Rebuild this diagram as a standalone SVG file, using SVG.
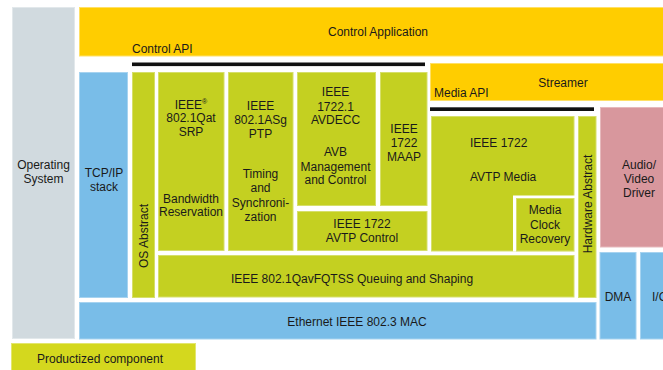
<svg xmlns="http://www.w3.org/2000/svg" width="663" height="370" viewBox="0 0 663 370">
<style>
text{font-family:"Liberation Sans",Arial,sans-serif;font-size:12px;fill:#1a1a1a}
.c{text-anchor:middle}
.g{fill:#c4d021;stroke:#d6df6a;stroke-width:1}
.y{fill:#ffcd00;stroke:#ffe066;stroke-width:1}
.b{fill:#79bde8;stroke:#a6d3f0;stroke-width:1}
.gr{fill:#d1dadf;stroke:#e2e8eb;stroke-width:1}
.p{fill:#d8979d;stroke:#e6b9bd;stroke-width:1}
.l{fill:#d4d81e;stroke:#e3e66e;stroke-width:1}
.bar{fill:#111}
</style>
<rect width="663" height="370" fill="#fff"/>
<g id="operating-system"><rect class="gr" x="12.5" y="7.5" width="62" height="331"/><text class="c" x="43.5" y="169">Operating</text><text class="c" x="43.5" y="183">System</text></g>
<g id="control-application"><rect class="y" x="79.5" y="7.5" width="590" height="48.5"/><text class="c" x="378" y="36">Control Application</text><text x="132" y="53">Control API</text></g>
<g id="streamer"><rect class="y" x="430.5" y="63.5" width="240" height="37"/><text class="c" x="563" y="87">Streamer</text><text x="434" y="97">Media API</text></g>
<g id="tcpip"><rect class="b" x="79.5" y="72.5" width="48" height="225"/><text class="c" x="104" y="177">TCP/IP</text><text class="c" x="104" y="191">stack</text></g>
<g id="os-abstract"><rect class="g" x="132.5" y="72.5" width="22" height="225"/><text class="c" transform="translate(147.5,236) rotate(-90)">OS  Abstract</text></g>
<g id="srp"><rect class="g" x="158.5" y="72.5" width="65.5" height="178"/><text class="c" x="191" y="109">IEEE<tspan font-size="7" dy="-5">®</tspan></text><text class="c" x="191" y="122">802.1Qat</text><text class="c" x="191" y="136">SRP</text><text class="c" x="191" y="203">Bandwidth</text><text class="c" x="191" y="216">Reservation</text></g>
<g id="ptp"><rect class="g" x="228.5" y="72.5" width="64.5" height="178"/><text class="c" x="260.5" y="110">IEEE</text><text class="c" x="260.5" y="124">802.1ASg</text><text class="c" x="260.5" y="138">PTP</text><text class="c" x="260.5" y="178">Timing</text><text class="c" x="260.5" y="192">and</text><text class="c" x="260.5" y="207">Synchroni-</text><text class="c" x="260.5" y="221">zation</text></g>
<g id="avdecc"><rect class="g" x="297.5" y="72.5" width="78" height="133"/><text class="c" x="335.5" y="96">IEEE</text><text class="c" x="335.5" y="111">1722.1</text><text class="c" x="335.5" y="124">AVDECC</text><text class="c" x="335.5" y="156">AVB</text><text class="c" x="335.5" y="171">Management</text><text class="c" x="335.5" y="184">and Control</text></g>
<g id="maap"><rect class="g" x="380.5" y="72.5" width="46.5" height="133"/><text class="c" x="404" y="133">IEEE</text><text class="c" x="404" y="147">1722</text><text class="c" x="404" y="161">MAAP</text></g>
<g id="avtp-control"><rect class="g" x="297.5" y="211.5" width="129.5" height="39"/><text class="c" x="362" y="228">IEEE 1722</text><text class="c" x="362" y="242">AVTP Control</text></g>
<g id="avtp-media"><rect class="g" x="431.5" y="116.5" width="142.5" height="134.5"/><rect x="513" y="195.5" width="62" height="56" fill="#fff"/><text x="470" y="147">IEEE 1722</text><text x="470" y="181">AVTP Media</text></g>
<g id="media-clock-recovery"><rect class="g" x="516.5" y="198.5" width="57.5" height="52.5"/><text class="c" x="545" y="214">Media</text><text class="c" x="545" y="229">Clock</text><text class="c" x="545" y="243">Recovery</text></g>
<g id="hardware-abstract"><rect class="g" x="578.5" y="116.5" width="17.5" height="181"/><text class="c" transform="translate(591.5,204) rotate(-90)">Hardware Abstract</text></g>
<g id="av-driver"><rect class="p" x="600.5" y="107.5" width="70" height="139.5"/><text class="c" x="639" y="169">Audio/</text><text class="c" x="639" y="183">Video</text><text class="c" x="639" y="197">Driver</text></g>
<g id="qav"><rect class="g" x="158.5" y="255.5" width="415.5" height="41.5"/><text class="c" x="352" y="283" font-size="12.2">IEEE 802.1QavFQTSS Queuing and Shaping</text></g>
<g id="ethernet-mac"><rect class="b" x="79.5" y="302.5" width="516.5" height="36.5"/><text class="c" x="357" y="326" font-size="12.2">Ethernet IEEE 802.3 MAC</text></g>
<g id="dma"><rect class="b" x="600" y="252.5" width="36" height="86.5"/><text class="c" x="618" y="301">DMA</text></g>
<g id="io"><rect class="b" x="640.5" y="252.5" width="40" height="86.5"/><text x="652" y="301">I/O</text></g>
<g id="legend"><rect class="l" x="11.5" y="343.5" width="184" height="30"/><text class="c" x="100" y="363">Productized component</text></g>
<g id="connectors"><rect class="bar" x="132" y="62.5" width="293" height="3.6"/><rect class="bar" x="430" y="107.3" width="164" height="3.7"/></g>
</svg>
